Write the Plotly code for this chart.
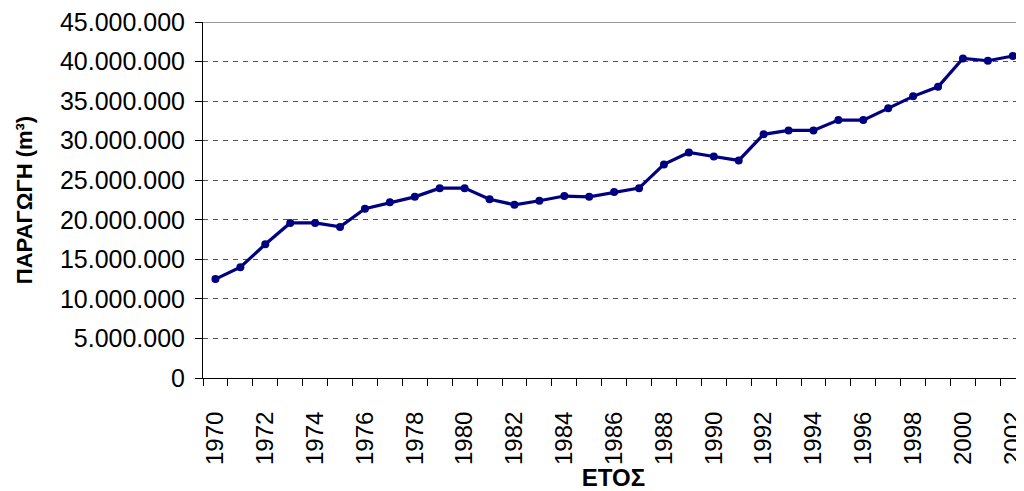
import plotly.graph_objects as go

years = [1970, 1971, 1972, 1973, 1974, 1975, 1976, 1977, 1978, 1979, 1980,
         1981, 1982, 1983, 1984, 1985, 1986, 1987, 1988, 1989, 1990, 1991,
         1992, 1993, 1994, 1995, 1996, 1997, 1998, 1999, 2000, 2001, 2002]
production = [12500000, 14000000, 16900000, 19600000, 19600000, 19100000,
              21400000, 22200000, 22900000, 24000000, 24000000, 22600000,
              21900000, 22400000, 23000000, 22900000, 23500000, 24000000,
              27000000, 28500000, 28000000, 27500000, 30800000, 31300000,
              31300000, 32600000, 32600000, 34100000, 35600000, 36800000,
              40400000, 40100000, 40700000]
x_tick_years = years[::2]
y_ticks = [0, 5000000, 10000000, 15000000, 20000000, 25000000,
           30000000, 35000000, 40000000, 45000000]

FONT = "Arial, Liberation Sans, sans-serif"

fig = go.Figure()
fig.add_trace(go.Scatter(
    x=years, y=production, mode="lines+markers",
    line=dict(color="#000080", width=3.2),
    marker=dict(color="#000080", size=8),
    hoverinfo="x+y", showlegend=False, cliponaxis=False,
))

# page body has an 8px default margin, so the figure is sized to fit the window
fig.update_layout(
    width=1016, height=483,
    margin=dict(l=195, r=0, t=14, b=113),
    paper_bgcolor="white", plot_bgcolor="white",
    separators=",.",
    font=dict(family=FONT, size=25, color="black"),
    xaxis=dict(
        automargin=False,
        range=[1969.5, 2002.45],
        tickmode="array", tickvals=x_tick_years,
        ticktext=[str(y) for y in x_tick_years],
        tickangle=-90, ticks="", showgrid=False,
        ticklabelstandoff=23, ticklabeloverflow="allow",
        minor=dict(ticks="outside", tick0=1969.5, dtick=1, ticklen=7,
                   tickcolor="black", showgrid=False),
        showline=True, linecolor="black", linewidth=1,
        zeroline=False,
        tickfont=dict(family=FONT, size=24),
        title=dict(text="<b>ΕΤΟΣ</b>", font=dict(family=FONT, size=24),
                   standoff=16),
    ),
    yaxis=dict(
        automargin=False,
        range=[0, 45000000],
        tickmode="array", tickvals=y_ticks,
        tickformat=",d",
        ticks="outside", ticklen=7, tickcolor="black",
        ticklabelstandoff=5, ticklabeloverflow="allow",
        showgrid=True, gridcolor="#555555", gridwidth=1, griddash="5px,5px",
        showline=True, linecolor="black", linewidth=1,
        zeroline=False,
        tickfont=dict(family=FONT, size=25),
        title=dict(text="<b>ΠΑΡΑΓΩΓΗ (m³)</b>", font=dict(family=FONT, size=22),
                   standoff=21),
    ),
    shapes=[dict(type="line", xref="paper", yref="y", x0=0, x1=1,
                 y0=45000000, y1=45000000,
                 line=dict(color="#777777", width=1.5))],
)

fig.write_html("out.html")
